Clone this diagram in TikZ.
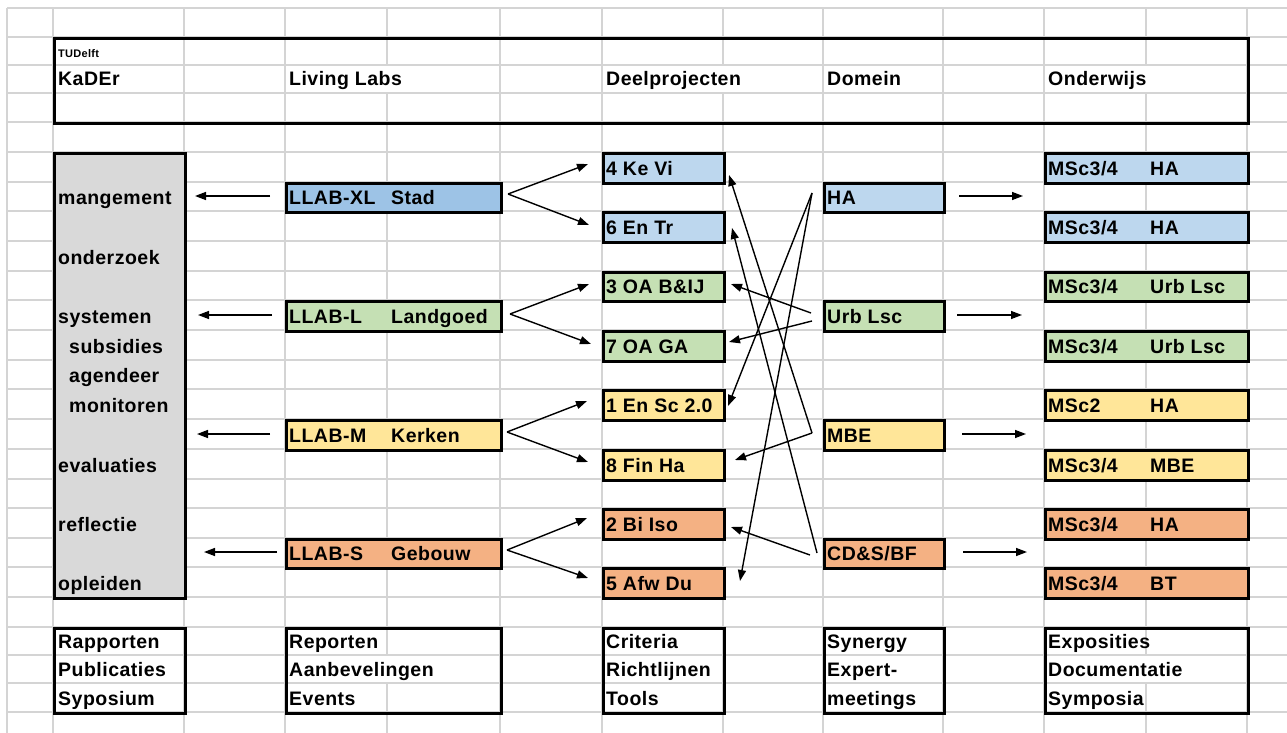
\documentclass[tikz,border=0pt]{standalone}
\usepackage{fontspec}
\setmainfont{Liberation Sans}[LetterSpace=2.5]
\usetikzlibrary{arrows.meta}
\definecolor{gridc}{RGB}{212,212,212}
\definecolor{bluedk}{RGB}{157,195,230}
\definecolor{bluelt}{RGB}{189,215,238}
\definecolor{greenc}{RGB}{197,224,180}
\definecolor{yellowc}{RGB}{255,230,153}
\definecolor{orangec}{RGB}{244,177,131}
\definecolor{grayc}{RGB}{217,217,217}
\newcommand\cbox[6]{\node[cbx, fill=#6, minimum width={(#4-#2)*1pt}, minimum height={(#5-#3)*1pt}] (#1) at (#2,#3) {};}
\newcommand\ctext[4]{\node[ctx] (#1) at (#2,#3) {#4};}
\begin{document}
\begin{tikzpicture}[x=1pt,y=-1pt,
  grid/.style={gridc, line width=1.6pt},
  cbx/.style={draw=black, line width=2.8pt, inner sep=0pt, anchor=north west},
  ctx/.style={anchor=base west, inner sep=0pt, font=\bfseries\fontsize{19.5}{21}\selectfont},
  smalltx/.style={anchor=base west, inner sep=0pt, font=\bfseries\fontsize{11}{12}\selectfont},
  arr/.style={line width=1.4pt, -{Triangle[length=11pt,width=8pt]}}]
\useasboundingbox (0,0) rectangle (1287,733);
\fill[white] (0,0) rectangle (1287,733);
% spreadsheet grid
\foreach \x in {7,53,184,285,387,500,602,723,823,943,1044,1146,1247}
  \draw[grid] (\x,8) -- (\x,733);
\foreach \y in {8,37,65,93,122,152,182,211,241,271,300,330,360,389,419,449,479,508,538,567,597,627,655,683,712}
  \draw[grid] (7,\y) -- (1287,\y);
% gridline gaps behind overflowing text
\fill[white] (385.3,66) rectangle (388.7,92);
\fill[white] (721.3,66) rectangle (724.7,92);
\fill[white] (1144.3,66) rectangle (1147.7,92);
\fill[white] (385.3,656) rectangle (388.7,682);
\fill[white] (1144.3,656) rectangle (1147.7,682);

% header
\cbox{hdr}{53}{37}{1247}{122}{none}
\node[smalltx] (tud) at (58,58) {TUDelft};
\ctext{hkader}{58}{86}{KaDEr}
\ctext{hll}{289}{86}{Living Labs}
\ctext{hdp}{606}{86}{Deelprojecten}
\ctext{hdom}{827}{86}{Domein}
\ctext{hond}{1048}{86}{Onderwijs}

% KaDEr column
\cbox{kader}{53}{152}{184}{597}{grayc}
\ctext{k1}{58}{204}{mangement}
\ctext{k2}{58}{264}{onderzoek}
\ctext{k3}{58}{323}{systemen}
\ctext{k4}{69}{353}{subsidies}
\ctext{k5}{69}{382}{agendeer}
\ctext{k6}{69}{412}{monitoren}
\ctext{k7}{58}{472}{evaluaties}
\ctext{k8}{58}{531}{reflectie}
\ctext{k9}{58}{590}{opleiden}

% Living Labs
\cbox{llxl}{285}{182}{500}{211}{bluedk}
\ctext{llxla}{289}{204}{LLAB-XL}\ctext{llxlb}{391}{204}{Stad}
\cbox{lll}{285}{300}{500}{330}{greenc}
\ctext{llla}{289}{323}{LLAB-L}\ctext{lllb}{391}{323}{Landgoed}
\cbox{llm}{285}{419}{500}{449}{yellowc}
\ctext{llma}{289}{442}{LLAB-M}\ctext{llmb}{391}{442}{Kerken}
\cbox{lls}{285}{538}{500}{567}{orangec}
\ctext{llsa}{289}{560}{LLAB-S}\ctext{llsb}{391}{560}{Gebouw}

% Deelprojecten
\cbox{dp4}{602}{152}{723}{182}{bluelt}\ctext{dp4t}{606}{175}{4 Ke Vi}
\cbox{dp6}{602}{211}{723}{241}{bluelt}\ctext{dp6t}{606}{234}{6 En Tr}
\cbox{dp3}{602}{271}{723}{300}{greenc}\ctext{dp3t}{606}{293}{3 OA B\&IJ}
\cbox{dp7}{602}{330}{723}{360}{greenc}\ctext{dp7t}{606}{353}{7 OA GA}
\cbox{dp1}{602}{389}{723}{419}{yellowc}\ctext{dp1t}{606}{412}{1 En Sc 2.0}
\cbox{dp8}{602}{449}{723}{479}{yellowc}\ctext{dp8t}{606}{472}{8 Fin Ha}
\cbox{dp2}{602}{508}{723}{538}{orangec}\ctext{dp2t}{606}{531}{2 Bi Iso}
\cbox{dp5}{602}{567}{723}{597}{orangec}\ctext{dp5t}{606}{590}{5 Afw Du}

% Domein
\cbox{dha}{823}{182}{943}{211}{bluelt}\ctext{dhat}{827}{204}{HA}
\cbox{dur}{823}{300}{943}{330}{greenc}\ctext{durt}{827}{323}{Urb Lsc}
\cbox{dmb}{823}{419}{943}{449}{yellowc}\ctext{dmbt}{827}{442}{MBE}
\cbox{dcd}{823}{538}{943}{567}{orangec}\ctext{dcdt}{827}{560}{CD\&S/BF}

% Onderwijs
\cbox{o1}{1044}{152}{1247}{182}{bluelt}\ctext{o1a}{1048}{175}{MSc3/4}\ctext{o1b}{1150}{175}{HA}
\cbox{o2}{1044}{211}{1247}{241}{bluelt}\ctext{o2a}{1048}{234}{MSc3/4}\ctext{o2b}{1150}{234}{HA}
\cbox{o3}{1044}{271}{1247}{300}{greenc}\ctext{o3a}{1048}{293}{MSc3/4}\ctext{o3b}{1150}{293}{Urb Lsc}
\cbox{o4}{1044}{330}{1247}{360}{greenc}\ctext{o4a}{1048}{353}{MSc3/4}\ctext{o4b}{1150}{353}{Urb Lsc}
\cbox{o5}{1044}{389}{1247}{419}{yellowc}\ctext{o5a}{1048}{412}{MSc2}\ctext{o5b}{1150}{412}{HA}
\cbox{o6}{1044}{449}{1247}{479}{yellowc}\ctext{o6a}{1048}{472}{MSc3/4}\ctext{o6b}{1150}{472}{MBE}
\cbox{o7}{1044}{508}{1247}{538}{orangec}\ctext{o7a}{1048}{531}{MSc3/4}\ctext{o7b}{1150}{531}{HA}
\cbox{o8}{1044}{567}{1247}{597}{orangec}\ctext{o8a}{1048}{590}{MSc3/4}\ctext{o8b}{1150}{590}{BT}

% bottom boxes
\cbox{b1}{53}{627}{184}{712}{none}
\ctext{b1a}{58}{648}{Rapporten}\ctext{b1b}{58}{676}{Publicaties}\ctext{b1c}{58}{705}{Syposium}
\cbox{b2}{285}{627}{500}{712}{none}
\ctext{b2a}{289}{648}{Reporten}\ctext{b2b}{289}{676}{Aanbevelingen}\ctext{b2c}{289}{705}{Events}
\cbox{b3}{602}{627}{723}{712}{none}
\ctext{b3a}{606}{648}{Criteria}\ctext{b3b}{606}{676}{Richtlijnen}\ctext{b3c}{606}{705}{Tools}
\cbox{b4}{823}{627}{943}{712}{none}
\ctext{b4a}{827}{648}{Synergy}\ctext{b4b}{827}{676}{Expert-}\ctext{b4c}{827}{705}{meetings}
\cbox{b5}{1044}{627}{1247}{712}{none}
\ctext{b5a}{1048}{648}{Exposities}\ctext{b5b}{1048}{676}{Documentatie}\ctext{b5c}{1048}{705}{Symposia}

% arrow end points
\coordinate (axl1) at (270,196);  \coordinate (axl2) at (195,196);
\coordinate (al1) at (272,315);   \coordinate (al2) at (198,315);
\coordinate (am1) at (270,434);   \coordinate (am2) at (197,434);
\coordinate (as1) at (277,552);   \coordinate (as2) at (204,552);
\coordinate (rha1) at (959,196);  \coordinate (rha2) at (1023,196);
\coordinate (rur1) at (957,315);  \coordinate (rur2) at (1022,315);
\coordinate (rmb1) at (962,434);  \coordinate (rmb2) at (1026,434);
\coordinate (rcd1) at (963,552);  \coordinate (rcd2) at (1027,552);
\coordinate (fxl) at (508,194); \coordinate (f4) at (588,164); \coordinate (f6) at (589,225);
\coordinate (fl) at (510,314);  \coordinate (f3) at (589,284); \coordinate (f7) at (591,344);
\coordinate (fm) at (507,432);  \coordinate (f1) at (587,401); \coordinate (f8) at (588,462);
\coordinate (fs) at (507,550);  \coordinate (f2) at (587,518); \coordinate (f5) at (588,578);
\coordinate (cha) at (812,193);
\coordinate (cur1) at (811,313); \coordinate (cur2) at (812,321);
\coordinate (cmb) at (812,433);
\coordinate (ccd1) at (810,555); \coordinate (ccd2) at (817,553);
\coordinate (e4) at (729,175); \coordinate (e6) at (732,228);
\coordinate (e3) at (731,284); \coordinate (e7) at (729,342);
\coordinate (e1) at (728,406); \coordinate (e8) at (735,460);
\coordinate (e2) at (731,527); \coordinate (e5) at (740,581);

% arrows
\draw[arr] (axl1) -- (axl2);
\draw[arr] (al1) -- (al2);
\draw[arr] (am1) -- (am2);
\draw[arr] (as1) -- (as2);
\draw[arr] (rha1) -- (rha2);
\draw[arr] (rur1) -- (rur2);
\draw[arr] (rmb1) -- (rmb2);
\draw[arr] (rcd1) -- (rcd2);
\draw[arr] (fxl) -- (f4); \draw[arr] (fxl) -- (f6);
\draw[arr] (fl) -- (f3);  \draw[arr] (fl) -- (f7);
\draw[arr] (fm) -- (f1);  \draw[arr] (fm) -- (f8);
\draw[arr] (fs) -- (f2);  \draw[arr] (fs) -- (f5);
\draw[arr] (cha) -- (e1); \draw[arr] (cha) -- (e5);
\draw[arr] (cur1) -- (e3); \draw[arr] (cur2) -- (e7);
\draw[arr] (cmb) -- (e8); \draw[arr] (cmb) -- (e4);
\draw[arr] (ccd1) -- (e2); \draw[arr] (ccd2) -- (e6);
\end{tikzpicture}
\end{document}
